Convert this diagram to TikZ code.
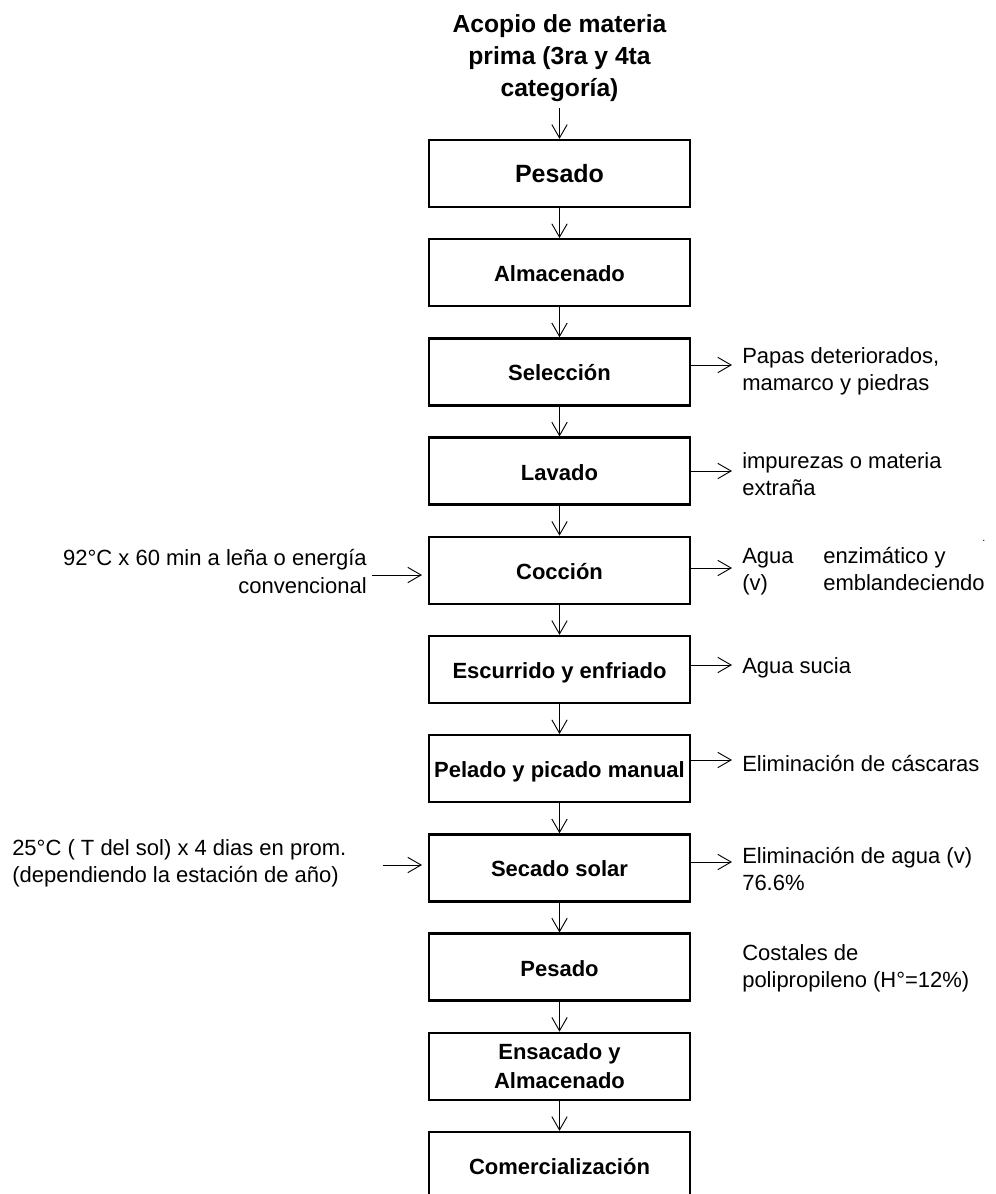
\documentclass[tikz,border=0pt]{standalone}
\usepackage{fontspec}
\setmainfont{Liberation Sans}
\usetikzlibrary{arrows.meta,calc}
\begin{document}
\begin{tikzpicture}[x=0.75pt,y=-0.75pt,
  every node/.style={inner sep=0pt, font=\fontsize{16.5pt}{19.5pt}\selectfont},
  boxbase/.style={draw, line width=1.7pt, minimum width=195.75pt, minimum height=50.25pt,
    font=\fontsize{16.5pt}{22pt}\selectfont\bfseries, align=center},
  box/.style={boxbase, text height=13.5pt, text depth=0pt},
  bigbox/.style={box, font=\fontsize{18.75pt}{22pt}\selectfont\bfseries, text height=14pt},
  flow/.style={-{Straight Barb[length=10pt,width=11.5pt]}, line width=0.7pt},
  lbl/.style={anchor=base west},
  lblr/.style={anchor=base east},
  ttl/.style={anchor=base, font=\fontsize{18.5pt}{24pt}\selectfont\bfseries}]
\useasboundingbox (0,0) rectangle (995,1194);

% title
\node[ttl] (t1) at (559.5,33) {Acopio de materia};
\node[ttl] (t2) at (559.5,65) {prima (3ra y 4ta};
\node[ttl] (t3) at (559.5,97) {categoría)};

% process boxes
\node[bigbox] (b0) at (559.5,173.5) {Pesado};
\node[box] (b1) at (559.5,272.7) {Almacenado};
\node[box] (b2) at (559.5,371.9) {Selección};
\node[box] (b3) at (559.5,471.1) {Lavado};
\node[box] (b4) at (559.5,570.3) {Cocción};
\node[box] (b5) at (559.5,669.5) {Escurrido y enfriado};
\node[box] (b6) at (559.5,768.7) {Pelado y picado manual};
\node[box] (b7) at (559.5,867.9) {Secado solar};
\node[box] (b8) at (559.5,967.1) {Pesado};
\node[boxbase] (b9) at (559.5,1066.3) {Ensacado y\\Almacenado};
\node[box] (b10) at (559.5,1165.5) {Comercialización};

% vertical flow
\draw[flow] ([yshift=-4pt]t3.south) -- (b0.north);
\foreach \a/\b in {b0/b1,b1/b2,b2/b3,b3/b4,b4/b5,b5/b6,b6/b7,b7/b8,b8/b9,b9/b10}
  \draw[flow] (\a.south) -- (\b.north);

% right-hand outputs
\node[lbl] (s1) at (742,363) {Papas deteriorados,};
\node[lbl] (s2) at (742,390) {mamarco y piedras};
\node[lbl] (l1) at (742,468) {impurezas o materia};
\node[lbl] (l2) at (742,495) {extraña};
\node[lbl] (c1) at (742,563) {Agua};
\node[lbl] (c2) at (742,590) {(v)};
\node[lbl] (c3) at (823,563) {enzimático y};
\node[lbl] (c4) at (823,590) {emblandeciendo};
\node[lbl, font=\fontsize{8pt}{8pt}\selectfont] (dot) at (982,541) {.};
\node[lbl] (e1) at (742,673) {Agua sucia};
\node[lbl] (p1) at (742,771) {Eliminación de cáscaras};
\node[lbl] (d1) at (742,863) {Eliminación de agua (v)};
\node[lbl] (d2) at (742,890) {76.6\%};
\node[lbl] (k1) at (742,960) {Costales de};
\node[lbl] (k2) at (742,987) {polipropileno (H°=12\%)};

\coordinate (r2) at (732,365);
\coordinate (r3) at (732,471);
\coordinate (r4) at (732,568);
\coordinate (r5) at (732,665);
\coordinate (r6) at (732,760);
\coordinate (r7) at (732,862);
\draw[flow] (b2.east |- r2) -- (r2);
\draw[flow] (b3.east |- r3) -- (r3);
\draw[flow] (b4.east |- r4) -- (r4);
\draw[flow] (b5.east |- r5) -- (r5);
\draw[flow] (b6.east |- r6) -- (r6);
\draw[flow] (b7.east |- r7) -- (r7);

% left-hand inputs
\node[lblr] (q1) at (367,565) {92°C x 60 min a leña o energía};
\node[lblr] (q2) at (367,593) {convencional};
\node[lbl] (w1) at (12,855) {25°C ( T del sol) x 4 dias en prom.};
\node[lbl] (w2) at (12,882) {(dependiendo la estación de año)};

\coordinate (qa) at (372,575);
\coordinate (qb) at (422,575);
\coordinate (wa) at (383,865);
\coordinate (wb) at (422,865);
\draw[flow] (qa) -- (qb);
\draw[flow] (wa) -- (wb);
\end{tikzpicture}
\end{document}
